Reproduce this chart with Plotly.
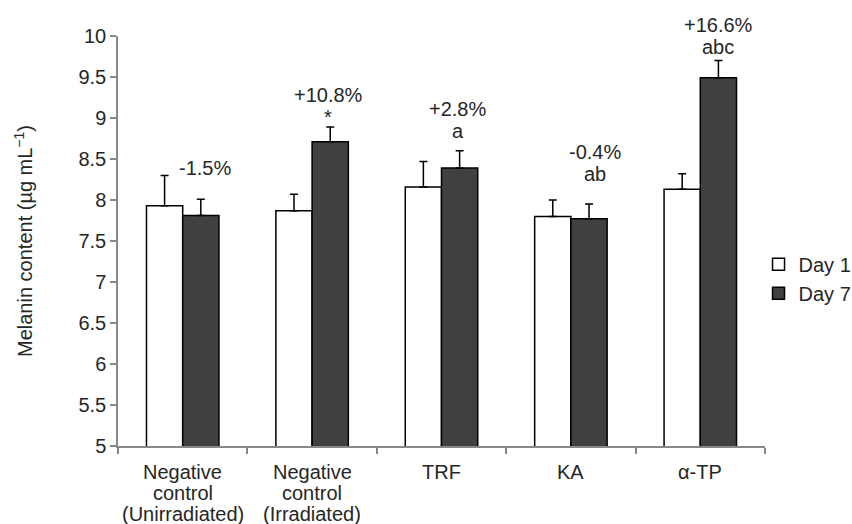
import plotly.graph_objects as go

categories = ["Negative control (Unirradiated)", "Negative control (Irradiated)", "TRF", "KA", "α-TP"]
category_lines = [["Negative", "control", "(Unirradiated)"],
                  ["Negative", "control", "(Irradiated)"],
                  ["TRF"], ["KA"], ["α-TP"]]
day1 = [7.93, 7.87, 8.16, 7.80, 8.13]
day1_err = [0.37, 0.20, 0.31, 0.20, 0.19]
day7 = [7.81, 8.71, 8.39, 7.77, 9.49]
day7_err = [0.20, 0.18, 0.21, 0.18, 0.21]
pct_labels = ["-1.5%", "+10.8%", "+2.8%", "-0.4%", "+16.6%"]
sig_labels = ["", "*", "a", "ab", "abc"]
label_y = [8.39, 9.28, 9.11, 8.59, 10.13]
yticks = [5, 5.5, 6, 6.5, 7, 7.5, 8, 8.5, 9, 9.5, 10]

font = "Liberation Sans, Arial, sans-serif"
txt = "#262626"
FS = 20
Y_MIN, Y_MAX = 5, 10
M_L, M_R, M_T, M_B = 118, 87, 36, 78
H = 524
px_per_unit = (H - M_T - M_B) / (Y_MAX - Y_MIN)

fig = go.Figure()
fig.add_trace(go.Bar(
    name="Day 1", x=categories, y=day1,
    marker=dict(color="white", line=dict(color="black", width=1.5)),
    error_y=dict(type="data", symmetric=False, array=day1_err, arrayminus=[0]*5,
                 color="black", thickness=1.5, width=4),
))
fig.add_trace(go.Bar(
    name="Day 7", x=categories, y=day7,
    marker=dict(color="#404040", line=dict(color="black", width=1.5)),
    error_y=dict(type="data", symmetric=False, array=day7_err, arrayminus=[0]*5,
                 color="black", thickness=1.5, width=4),
))

# annotation horizontal offsets (pixels) from category centre
label_dx = [22, 16, 16, 24, 18]
for i, cat in enumerate(categories):
    ly = min(label_y[i], Y_MAX)
    extra = (label_y[i] - ly) * px_per_unit
    fig.add_annotation(x=cat, y=ly, text=pct_labels[i], showarrow=False,
                       xref="x", yref="y", xshift=label_dx[i], yshift=extra,
                       yanchor="middle", font=dict(family=font, size=FS, color=txt))
    if sig_labels[i]:
        fig.add_annotation(x=cat, y=ly, text=sig_labels[i], showarrow=False,
                           xref="x", yref="y", xshift=label_dx[i], yshift=extra - 22,
                           yanchor="middle", font=dict(family=font, size=FS, color=txt))
    # category labels, one line each (tight line spacing as in reference)
    for j, line in enumerate(category_lines[i]):
        fig.add_annotation(x=cat, y=0, text=line, showarrow=False,
                           xref="x", yref="paper", yshift=-26 - 21 * j,
                           yanchor="middle",
                           font=dict(family=font, size=FS, color=txt))

fig.update_layout(
    width=852, height=H,
    margin=dict(l=M_L, r=M_R, t=M_T, b=M_B, autoexpand=False),
    paper_bgcolor="white", plot_bgcolor="white",
    barmode="group", bargap=0.44, bargroupgap=0,
    font=dict(family=font, size=FS, color=txt),
    showlegend=True,
    legend=dict(x=0.99, y=0.408, xanchor="left", yanchor="middle",
                font=dict(family=font, size=FS, color=txt),
                itemwidth=30, tracegroupgap=0),
    yaxis=dict(range=[Y_MIN, Y_MAX], tickvals=yticks, ticktext=[f"{v:g}" for v in yticks],
               showgrid=False, zeroline=False, showline=True, linecolor="#888888",
               linewidth=1.5, ticks="outside", ticklen=6, tickcolor="#888888", tickwidth=1.5,
               tickfont=dict(family=font, size=FS, color=txt),
               title=dict(text="Melanin content (µg mL<sup>−1</sup>)", standoff=40,
                          font=dict(family=font, size=FS, color=txt))),
    xaxis=dict(showgrid=False, showline=True, linecolor="#888888", linewidth=1.5,
               ticks="outside", tickson="boundaries", ticklen=6, tickcolor="#888888",
               tickwidth=1.5, showticklabels=False),
)

fig.write_html("out.html", config={"displayModeBar": False},
               post_script="document.body.style.margin='0';")
